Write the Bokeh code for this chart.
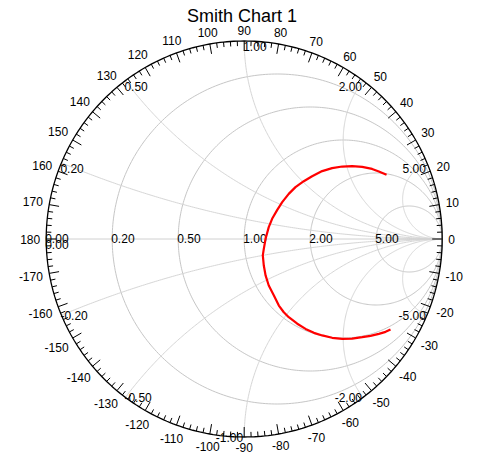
import numpy as np
from bokeh.plotting import figure
from bokeh.models import Range1d
from bokeh.embed import file_html
from bokeh.resources import INLINE
from bokeh.core.properties import value

# ---------------- data ----------------
title_text = "Smith Chart 1"
resistance_values = [0.2, 0.5, 1.0, 2.0, 5.0]
reactance_values = [0.2, 0.5, 1.0, 2.0, 5.0]
angle_labels = [0, 10, 20, 30, 40, 50, 60, 70, 80, 90, 100, 110, 120, 130, 140,
                150, 160, 170, 180, -10, -20, -30, -40, -50, -60, -70, -80,
                -90, -100, -110, -120, -130, -140, -150, -160, -170]
gamma_re = [0.719, 0.680, 0.646, 0.596, 0.545, 0.495, 0.444, 0.394, 0.343, 0.301,
            0.259, 0.225, 0.192, 0.167, 0.141, 0.124, 0.108, 0.099, 0.094, 0.099,
            0.108, 0.124, 0.150, 0.175, 0.200, 0.225, 0.268, 0.310, 0.352, 0.394,
            0.444, 0.495, 0.545, 0.596, 0.638, 0.680, 0.714, 0.739]
gamma_im = [0.324, 0.341, 0.354, 0.364, 0.368, 0.366, 0.358, 0.343, 0.317, 0.292,
            0.262, 0.228, 0.186, 0.147, 0.102, 0.060, 0.001, -0.050, -0.083, -0.134,
            -0.184, -0.235, -0.285, -0.336, -0.370, -0.395, -0.428, -0.454, -0.474, -0.487,
            -0.499, -0.504, -0.503, -0.496, -0.489, -0.479, -0.469, -0.457]

# ---------------- layout ----------------
W, H = 480, 457
CX, CY = 243.7, 238.5   # chart centre in figure pixels
R = 198.0               # chart radius in pixels
FONT = "Liberation Sans"

p = figure(width=W, height=H,
           x_range=Range1d(-CX / R, (W - CX) / R),
           y_range=Range1d(-(H - CY) / R, CY / R),
           output_backend="svg", toolbar_location=None, min_border=0,
           x_axis_type=None, y_axis_type=None, outline_line_color=None,
           background_fill_color="white", border_fill_color="white")

t = np.linspace(0, 2 * np.pi, 361)

# constant resistance circles
xs, ys = [], []
for r in resistance_values:
    c, rad = r / (1 + r), 1 / (1 + r)
    xs.append(list(c + rad * np.cos(t)))
    ys.append(list(rad * np.sin(t)))
p.multi_line(xs, ys, line_color="#c6c6c6", line_width=1)

# constant reactance arcs
xs, ys = [], []
for xv in reactance_values:
    for s in (1, -1):
        x = s * xv
        cy = 1 / x
        rad = abs(cy)
        px = (x * x - 1) / (x * x + 1)
        py = 2 * x / (x * x + 1)
        a0 = -np.pi / 2 if x > 0 else np.pi / 2
        a1 = np.arctan2(py - cy, px - 1)
        if x > 0:
            if a1 > a0:
                a1 -= 2 * np.pi
        else:
            if a1 < a0:
                a1 += 2 * np.pi
        aa = np.linspace(a0, a1, 200)
        xs.append(list(1 + rad * np.cos(aa)))
        ys.append(list(cy + rad * np.sin(aa)))
p.multi_line(xs, ys, line_color="#d6d6d6", line_width=1)

# real axis
p.line([-1, 1], [0, 0], line_color="#d0d0d0", line_width=1)

# outer circle
p.line(list(np.cos(t)), list(np.sin(t)), line_color="black", line_width=1.3)

# ticks every 2 degrees, long ones every 10
angs = np.arange(0, 360, 2)
lens = np.where(angs % 10 == 0, 10.0, 5.0) / R
th = np.radians(angs)
p.segment(x0=np.cos(th), y0=np.sin(th),
          x1=(1 - lens) * np.cos(th), y1=(1 - lens) * np.sin(th),
          line_color="black", line_width=1)

# angle labels
lx, ly, lt = [], [], []
for a in angle_labels:
    s = str(a)
    w = 6.67 * sum(ch.isdigit() for ch in s) + (4 if s.startswith("-") else 0)
    thr = np.radians(a)
    d = (R + 6 + 0.5 * w * abs(np.cos(thr)) + 4.5 * abs(np.sin(thr))) / R
    lx.append(d * np.cos(thr))
    ly.append(d * np.sin(thr))
    lt.append(s)
p.text(x=lx, y=ly, text=lt, text_align="center", text_baseline="middle",
       text_font=value(FONT), text_font_size="12px", text_color="black")

# resistance labels on real axis
rl = [0.0] + resistance_values
p.text(x=[(r_ - 1) / (r_ + 1) for r_ in rl],
       y=[0] * len(rl), text=[f"{r_:.2f}" for r_ in rl],
       text_align="left", text_baseline="alphabetic", x_offset=-1, y_offset=-1,
       text_font=value(FONT), text_font_size="12px", text_color="black")

# reactance labels at rim
groups = {}
def add(key, x, y, s):
    groups.setdefault(key, ([], [], []))
    groups[key][0].append(x)
    groups[key][1].append(y)
    groups[key][2].append(s)

add(("left", "top"), -1.0, 0.0, "0.00")
for xv in reactance_values:
    for sgn in (1, -1):
        x = sgn * xv
        px = (x * x - 1) / (x * x + 1)
        py = 2 * x / (x * x + 1)
        s = f"{x:.2f}"
        if sgn > 0:
            al = "left" if px <= 1e-9 else "right"
            add((al, "top"), px, py, s)
        else:
            al = "left" if px < -1e-9 else "right"
            add((al, "alphabetic"), px, py, s)
for (al, bl), (gx, gy, gs) in groups.items():
    p.text(x=gx, y=gy, text=gs, text_align=al, text_baseline=bl,
           x_offset=-1, y_offset=(1 if bl == "top" else 0),
           text_font=value(FONT), text_font_size="12px", text_color="black")

# trace
p.line(gamma_re, gamma_im, line_color="#ff0000", line_width=2.2)

# title
p.text(x=[(241.5 - CX) / R], y=[(CY - 15) / R], text=[title_text],
       text_align="center", text_baseline="alphabetic",
       text_font=value(FONT), text_font_size="18px", text_color="black")

open("out.html", "w").write(file_html(p, INLINE))
